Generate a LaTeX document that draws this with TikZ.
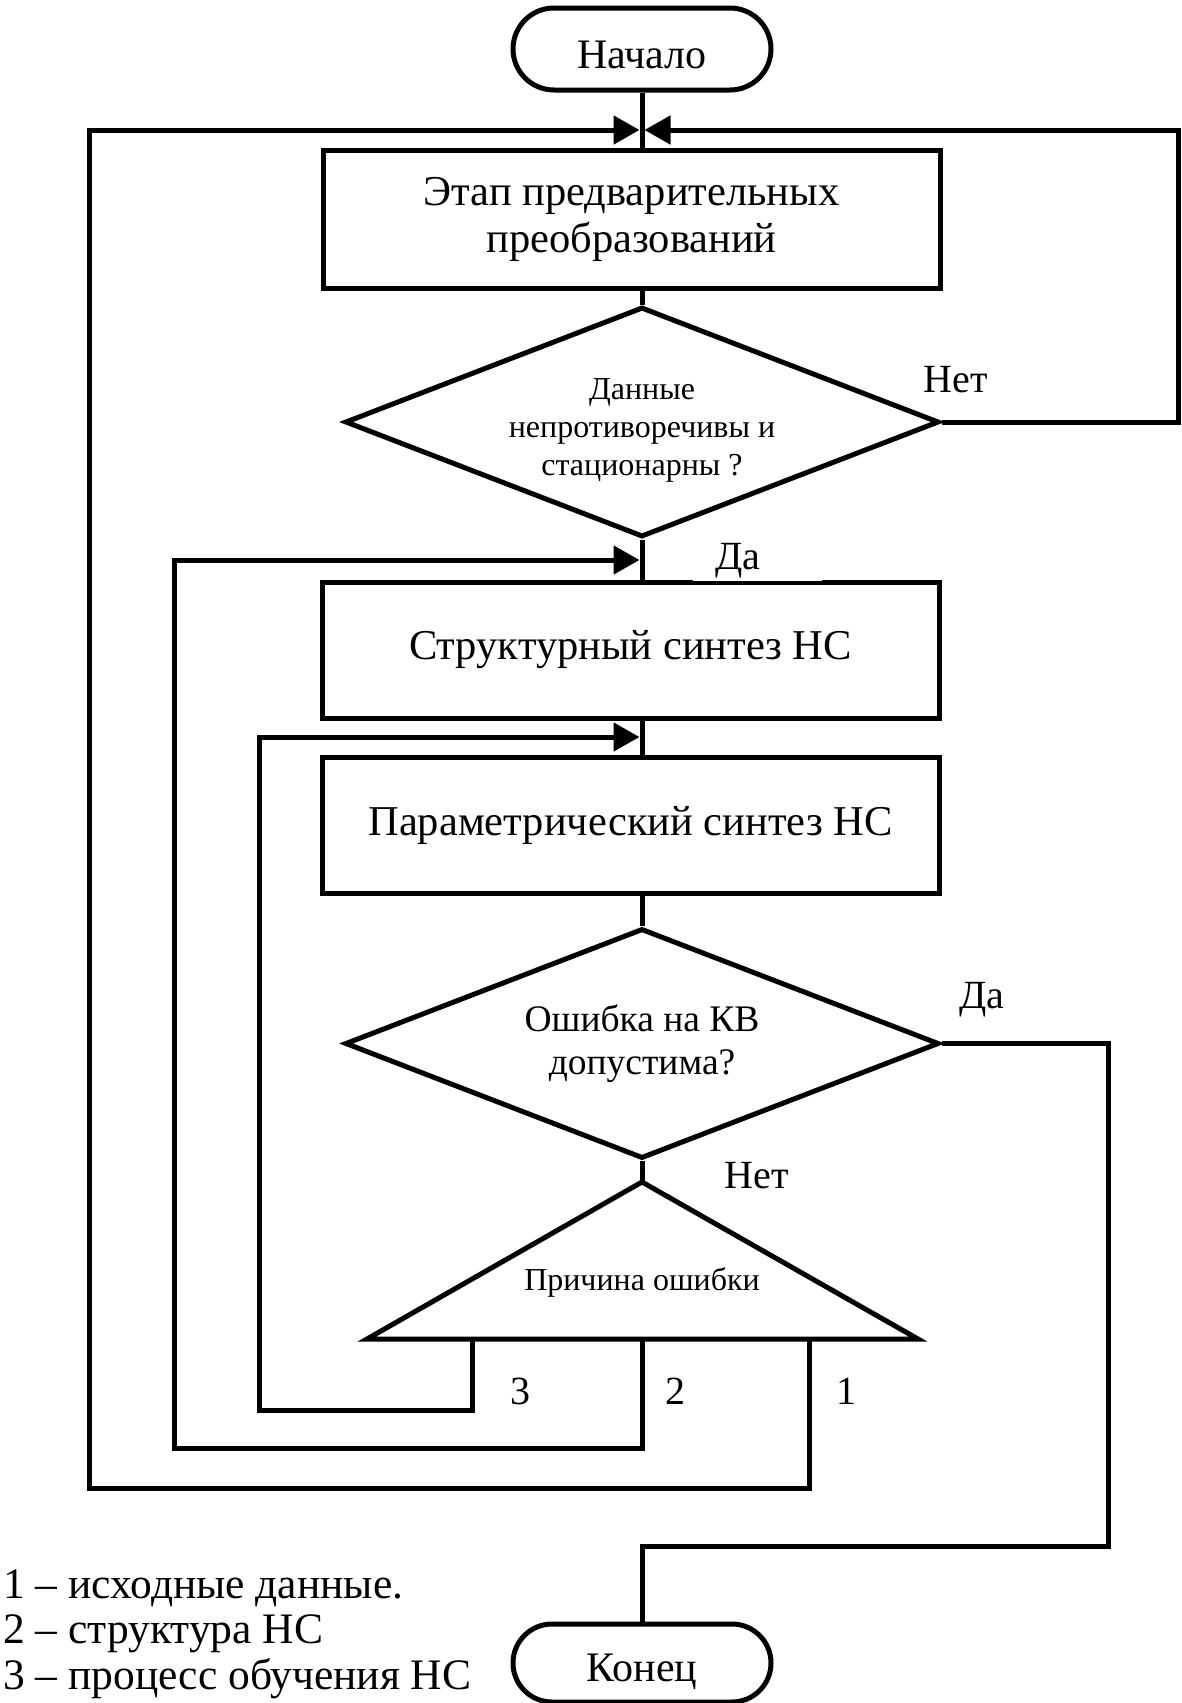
\documentclass[tikz,border=0pt]{standalone}
\usepackage{fontspec}
\setmainfont{Liberation Serif}
\usetikzlibrary{arrows.meta,shapes.geometric,positioning}

\tikzset{
  linija/.style={line width=5pt},
  strelka/.style={linija,-{Triangle[length=26pt,width=28pt]}},
  blok/.style={draw,linija,minimum width=617pt,minimum height=136pt,align=center,
    font=\fontsize{42.5}{47}\selectfont},
  term/.style={draw,linija,rounded corners=41pt,minimum width=258pt,minimum height=82pt,
    text height=40pt,font=\fontsize{42}{47}\selectfont},
  uslovie/.style={draw,diamond,linija,inner sep=0pt,aspect=2.58,minimum width=594pt,
    minimum height=230pt,align=center},
  metka/.style={font=\fontsize{40}{46}\selectfont},
  melk/.style={font=\fontsize{32}{38}\selectfont},
  legenda/.style={font=\fontsize{43.5}{46}\selectfont,anchor=west,inner sep=0pt},
}

\begin{document}
\begin{tikzpicture}[x=1pt,y=-1pt]
  \useasboundingbox (0,0) rectangle (1181,1703);
  % bloki
  \node[term] (nach) at (642,49) {Начало};
  \node[blok,minimum height=138pt] (etap) at (631.5,219) {Этап предварительных\\преобразований};
  \node[uslovie,melk] (dan) at (642,422)
    {\raisebox{-8pt}[\height][\depth]{\begin{tabular}{@{}c@{}}Данные\\непротиворечивы и\\стационарны ?\end{tabular}}};
  \node[blok] (struk) at (630.5,650) {Структурный синтез НС};
  \node[blok] (param) at (630.5,825.5) {Параметрический синтез НС};
  \node[uslovie,font=\fontsize{37.5}{43}\selectfont] (osh) at (642,1043.5) {Ошибка на КВ\\допустима?};
  \node[term,minimum height=78pt,rounded corners=39pt,text height=46pt] (kon) at (642,1663) {Конец};
  % treugolnik
  \coordinate (verh) at (642,1182);
  \coordinate (b3) at (472,1339);
  \coordinate (b2) at (642,1339);
  \coordinate (b1) at (809,1339);
  \draw[linija,line join=miter] (verh) -- (918,1339) -- (367,1339) -- cycle;
  \node[melk] (prich) at (642,1282) {Причина ошибки};
  % vhody strelok
  \coordinate (vhodL) at (639.5,130);
  \coordinate (vhodR) at (644.5,130);
  \coordinate (vhod2) at (639.5,560);
  \coordinate (vhod3) at (639.5,737);
  % linii
  \draw[linija] (nach.south) -- (nach.south |- etap.north);
  \draw[linija] (dan.north |- etap.south) -- (dan.north);
  \draw[linija] (dan.south) -- (dan.south |- struk.north);
  \draw[linija] (osh.north |- struk.south) -- (osh.north |- param.north);
  \draw[linija] (osh.north |- param.south) -- (osh.north);
  \draw[linija] (osh.south) -- (verh);
  \draw[strelka] (dan.east) -| (1178.5,130) -- (vhodR);
  \draw[strelka] (b1) |- (89,1488) |- (vhodL);
  \draw[strelka] (b2) |- (174,1448) |- (vhod2);
  \draw[strelka] (b3) |- (259,1410) |- (vhod3);
  \draw[linija] (osh.east) -| (1108,1546) -| (kon.north);
  % podpisi
  \node[metka] (net1) at (956,380) {Нет};
  \node[metka,fill=white,inner xsep=22pt,inner ysep=0pt,text width=85pt,align=left,
    minimum height=40pt] (da1) at (757.5,561) {Да};
  \node[metka] (da2) at (982,1000) {Да};
  \node[metka] (net2) at (757,1176) {Нет};
  \node[metka] (n3) at (520,1391) {3};
  \node[metka] (n2) at (675,1391) {2};
  \node[metka] (n1) at (846,1391) {1};
  % legenda
  \node[legenda] (leg1) at (3,1588) {1 – исходные данные.};
  \node[legenda] (leg2) at (3,1634) {2 – структура НС};
  \node[legenda] (leg3) at (3,1679) {3 – процесс обучения НС};
\end{tikzpicture}
\end{document}
